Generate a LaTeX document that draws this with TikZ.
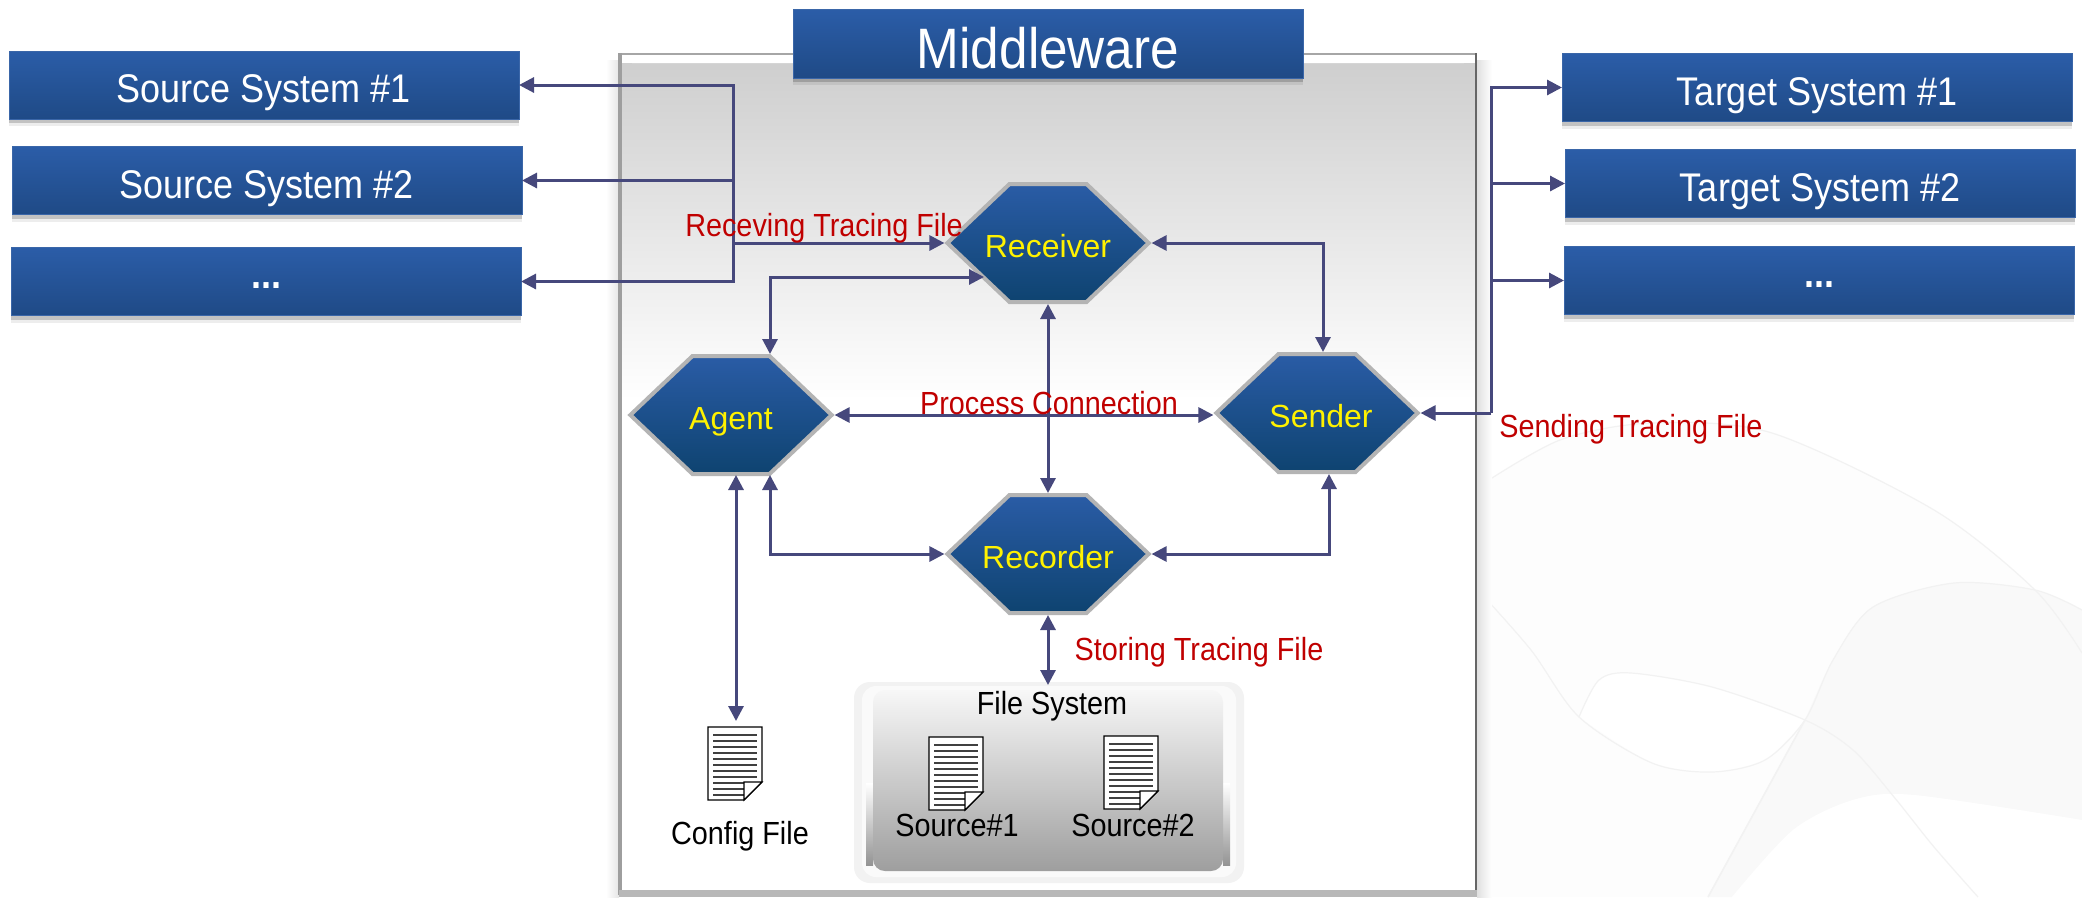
\documentclass[tikz,border=0pt]{standalone}
\usepackage{fontspec}
\setmainfont{Liberation Sans}
\newfontfamily\condfont[FakeStretch=0.9]{Liberation Sans}
\usetikzlibrary{arrows.meta,shapes.symbols,shadows}
\definecolor{boxtop}{HTML}{2B5DA8}
\definecolor{boxbot}{HTML}{1F4A86}
\definecolor{boxedge}{HTML}{3A66A8}
\definecolor{hextop}{HTML}{2A5CA6}
\definecolor{hexbot}{HTML}{0E4370}
\definecolor{hexedge}{HTML}{B4B4B4}
\definecolor{linkcol}{HTML}{46487C}
\definecolor{redtxt}{HTML}{C00000}
\definecolor{wm}{HTML}{F2F2F2}
\newcommand{\fs}[1]{\fontsize{#1}{#1}\selectfont}
\newcommand{\hexlab}[1]{\makebox[77pt]{#1}}
\tikzset{
  x=1pt,y=-1pt,
  sysbox/.style={rectangle,inner sep=0pt,outer sep=0pt,minimum width=510pt,minimum height=68pt,
    top color=boxtop,bottom color=boxbot,draw=boxedge,line width=1pt,text=white,
    font=\condfont\fs{40},text height=35pt,text depth=0pt,
    general shadow={shadow yshift=-7pt,fill=black,opacity=.07},
    general shadow={shadow yshift=-4pt,fill=black,opacity=.18}},
  dotsbox/.style={sysbox,font=\condfont\bfseries\fs{40},text height=13pt},
  hexnode/.style={shape=signal,signal to=east and west,signal pointer angle=87,
    inner sep=0pt,outer sep=2pt,minimum height=118pt,
    top color=hextop,bottom color=hexbot,draw=hexedge,line width=4pt,text=yellow,
    font=\fs{32},text height=29pt,text depth=0pt},
  link/.style={draw=linkcol,line width=3pt,{Triangle[length=15pt,width=15pt]}-{Triangle[length=15pt,width=15pt]}},
  linkend/.style={draw=linkcol,line width=3pt,-{Triangle[length=15pt,width=15pt]}},
  redlabel/.style={text=redtxt,font=\condfont\fs{32},inner sep=0pt},
  blacklabel/.style={text=black,font=\condfont\fs{32},inner sep=0pt},
  docicon/.pic={
    \draw[black,line width=1.1pt,fill=white] (0,0)--(54,0)--(54,55)--(36,73)--(0,73)--cycle;
    \foreach \yy in {8,14,20,26,32,38,44,50,56}
      \draw[black!75,line width=1.1pt] (5,\yy)--(49,\yy);
    \draw[black!75,line width=1.1pt] (5,62)--(36,62);
    \draw[black!75,line width=1.1pt] (5,68)--(36,68);
    \draw[black,line width=1.1pt,fill=white] (36,73)--(36,55)--(54,55)--cycle;
  }
}
\begin{document}
\begin{tikzpicture}
\useasboundingbox (0,0) rectangle (2082,897);
\fill[white] (0,0) rectangle (2082,897);
% faint watermark
\fill[black!0.8] plot[smooth] coordinates {(1478,487)(1560,440)(1652,423)(1772,433)(1934,510)(2035,590)(2082,653)}
  -- (2082,897) -- (1478,897) -- cycle;
\fill[black!2.5] plot[smooth] coordinates {(1805,720)(1833,660)(1873,607)(1954,583)(2035,590)(2082,610)}
  -- (2082,820) -- plot[smooth] coordinates {(2082,820)(1914,795)(1853,800)(1793,830)(1732,897)} -- (1708,897) -- cycle;
\fill[white] plot[smooth] coordinates {(1579,717)(1599,680)(1631,673)(1712,687)(1805,720)}
  -- plot[smooth] coordinates {(1805,720)(1765,760)(1712,772)(1652,763)(1579,717)} -- cycle;
\fill[white] plot[smooth] coordinates {(1732,897)(1793,830)(1853,800)(1914,795)(2082,820)} -- (2082,897) -- cycle;
\draw[wm,line width=1.2pt] plot[smooth] coordinates {(1478,487)(1560,440)(1652,423)(1772,433)(1934,510)(2035,590)(2082,653)};
\draw[wm,line width=1.2pt] plot[smooth] coordinates {(1478,590)(1531,650)(1579,717)(1652,763)(1712,772)(1765,760)(1805,720)(1833,660)(1873,607)(1954,583)(2035,590)(2082,610)};
\draw[wm,line width=1.2pt] plot[smooth] coordinates {(1579,717)(1599,680)(1631,673)(1712,687)(1805,720)(1853,750)(1894,797)(1934,847)(1978,897)};
\draw[wm,line width=1.6pt] (1805,720) -- (1708,897);
% panel
\shade[left color=white,right color=black!10] (606,60) rectangle (619,897);
\shade[left color=black!12,right color=white] (1477,60) rectangle (1492,897);
\fill[white] (619,53) rectangle (1477,897);
\shade[top color=black!19,bottom color=white] (621,63) rectangle (1475,400);
\fill[white] (623,55) -- (1473,55) -- (1464,63) -- (632,63) -- cycle;
\draw[black!35,line width=2pt] (619,54) -- (1476,54);
\draw[black!38,line width=4pt] (620,53) -- (620,895);
\draw[black!60,line width=2.5pt] (1476,53) -- (1476,895);
\fill[black!28] (619,890) rectangle (1477,897);
\node[sysbox,minimum height=69pt,font=\condfont\fs{57},text height=49pt] (mid) at (1048,43.5) {Middleware};
% systems
\node[sysbox] (src1) at (264,85) {Source System \#1};
\node[sysbox] (src2) at (267,180.5) {Source System \#2};
\node[dotsbox] (src3) at (266,281.5) {...};
\node[sysbox] (tgt1) at (1817,87.5) {Target System \#1};
\node[sysbox] (tgt2) at (1820,183.5) {Target System \#2};
\node[dotsbox] (tgt3) at (1819,280.5) {...};
% file system
\fill[black!5,rounded corners=16pt] (854,682) rectangle (1244,883);
\fill[black!2,rounded corners=14pt] (862,686) rectangle (1236,877);
\shade[top color=white,bottom color=black!42] (866,783) rectangle (873,865);
\shade[top color=white,bottom color=black!42] (1223,783) rectangle (1230,865);
\shade[rounded corners=12pt,top color=black!3,middle color=black!13,bottom color=black!38] (873,690) rectangle (1223,871);
% hexagons
\node[hexnode] (recv) at (1048,243) {\hexlab{Receiver}};
\node[hexnode] (agent) at (731,415) {\hexlab{Agent}};
\node[hexnode] (send) at (1317,413) {\hexlab{\hspace{8pt}Sender}};
\node[hexnode] (rec) at (1048,554) {\hexlab{Recorder}};
% documents
\pic at (708,727) {docicon};
\pic at (929,737) {docicon};
\pic at (1104,736) {docicon};
% helper coordinates
\coordinate (cfgtop) at (736,721);
\coordinate (trunkS) at (733,243);
\coordinate (trunkT) at (1491,413);
\coordinate (agentUR) at (770,354);
\coordinate (agentDR) at (770,475);
\coordinate (recvLL) at (984,277);
\coordinate (sendTop) at (1323,352);
\coordinate (sendBot) at (1329,474);
\coordinate (agentB) at (736,475);
\coordinate (fsTop) at (1048,685);
% connectors
\draw[linkend] (trunkS) |- (src1.east);
\draw[linkend] (trunkS) |- (src2.east);
\draw[linkend] (trunkS) |- (src3.east);
\draw[linkend] (trunkS) -- (recv.west);
\draw[link] (agentUR) |- (recvLL);
\draw[link] (recv.east) -| (sendTop);
\draw[link] (recv.south) -- (rec.north);
\draw[link] (agent.east) -- (agent.east -| send.west);
\draw[link] (agentDR) |- (rec.west);
\draw[link] (rec.east) -| (sendBot);
\draw[link] (rec.south) -- (fsTop);
\draw[link] (agentB) -- (cfgtop);
\draw[linkend] (trunkT) -- (send.east);
\draw[linkend] (trunkT) |- (tgt1.west);
\draw[linkend] (trunkT) |- (tgt2.west);
\draw[linkend] (trunkT) |- (tgt3.west);
% labels
\node[redlabel] (lrecv) at (824,228) {Receving Tracing File};
\node[redlabel] (lproc) at (1049,403) {Process Connection};
\node[redlabel] (lsend) at (1631,429) {Sending Tracing File};
\node[redlabel] (lstor) at (1199,652) {Storing Tracing File};
\node[blacklabel] (lfs) at (1052,706) {File System};
\node[blacklabel] (ls1) at (957,825) {Source\#1};
\node[blacklabel] (ls2) at (1133,825) {Source\#2};
\node[blacklabel] (lcfg) at (740,836) {Config File};
\end{tikzpicture}
\end{document}
